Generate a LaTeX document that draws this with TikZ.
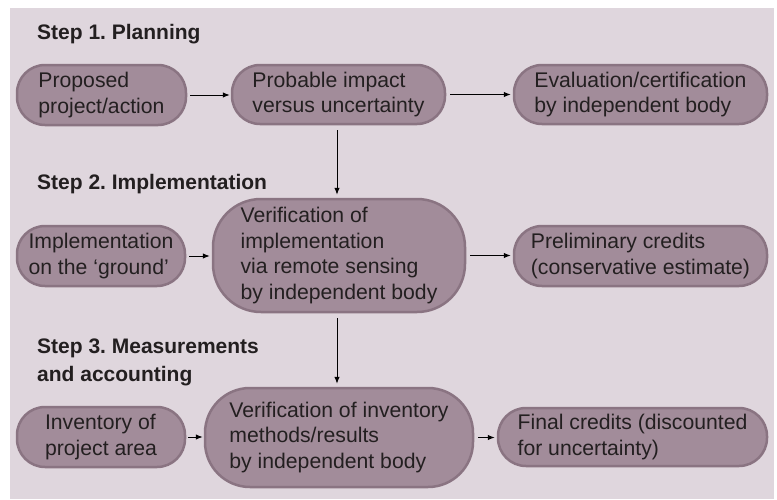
\documentclass[tikz,border=0pt]{standalone}
\usepackage{fontspec}
\setmainfont{Liberation Sans}
\usetikzlibrary{arrows.meta}
\definecolor{bgc}{RGB}{223,214,221}
\definecolor{nodefill}{RGB}{162,140,154}
\definecolor{nodeedge}{RGB}{138,116,130}
\definecolor{txt}{RGB}{35,31,32}
\frenchspacing
\begin{document}
\begin{tikzpicture}[x=1pt,y=-1pt,
  box/.style={draw=nodeedge, line width=2.5pt, fill=nodefill, rounded corners=28pt,
    inner sep=0pt, align=left, text=txt, font=\fontsize{21.2}{25.7}\selectfont},
  steplabel/.style={font=\fontsize{21}{28}\selectfont\bfseries, text=txt,
    inner sep=0pt, anchor=base west, align=left},
  arr/.style={-{Latex[length=7pt,width=5.5pt]}, line width=1pt, black}]
\useasboundingbox (0,0) rectangle (777,499);
\fill[bgc] (10,8) rectangle (774,499);

% step labels
\node[steplabel] (S1) at (37,39) {Step 1. Planning};
\node[steplabel] (S2) at (37,189) {Step 2. Implementation};
\node[steplabel] (S3) at (37,381) {Step 3. Measurements\\and accounting};

% row 1
\node[box, minimum width=169pt, minimum height=60pt] (A1) at (101.5,95) {Proposed\\project/action};
\node[box, minimum width=213pt, minimum height=59pt] (A2) at (338.5,94.5) {Probable impact\\versus uncertainty};
\node[box, minimum width=253pt, minimum height=59pt] (A3) at (640.5,94.5) {Evaluation/certification\\by independent body};

% row 2
\node[box, minimum width=168pt, minimum height=60pt] (B1) at (101,256) {Implementation\\on the ‘ground’};
\node[box, rounded corners=48pt, minimum width=252pt, minimum height=113pt] (B2) at (339,255.5) {Verification of\\implementation\\via remote sensing\\by independent body};
\node[box, minimum width=253pt, minimum height=60pt] (B3) at (640.5,256) {Preliminary credits\\(conservative estimate)};

% row 3
\node[box, minimum width=168pt, minimum height=60pt] (C1) at (101,437) {Inventory of\\project area};
\node[box, rounded corners=45pt, minimum width=268pt, minimum height=99pt] (C2) at (339,437.5) {Verification of inventory\\methods/results\\by independent body};
\node[box, minimum width=269pt, minimum height=58pt] (C3) at (632.5,437) {Final credits (discounted\\for uncertainty)};

% connectors
\draw[arr, shorten <=3pt, shorten >=1pt] (A1.east) -- (A2.west |- A1.east);
\draw[arr, shorten <=4pt, shorten >=2pt] (A2.east) -- (A3.west);
\draw[arr, shorten <=5pt, shorten >=3pt] ([xshift=-1.5pt]A2.south) -- ([xshift=-1.5pt]A2.south |- B2.north);
\draw[arr, shorten <=3pt, shorten >=2pt] (B1.east) -- (B2.west |- B1.east);
\draw[arr, shorten <=4pt, shorten >=2pt] (B2.east) -- (B3.west |- B2.east);
\draw[arr, shorten <=5pt, shorten >=3pt] ([xshift=-2pt]B2.south) -- ([xshift=-2pt]B2.south |- C2.north);
\draw[arr, shorten <=2pt, shorten >=1pt] (C1.east) -- (C2.west |- C1.east);
\draw[arr, shorten <=4pt, shorten >=2pt] (C2.east) -- (C3.west |- C2.east);
\end{tikzpicture}
\end{document}
